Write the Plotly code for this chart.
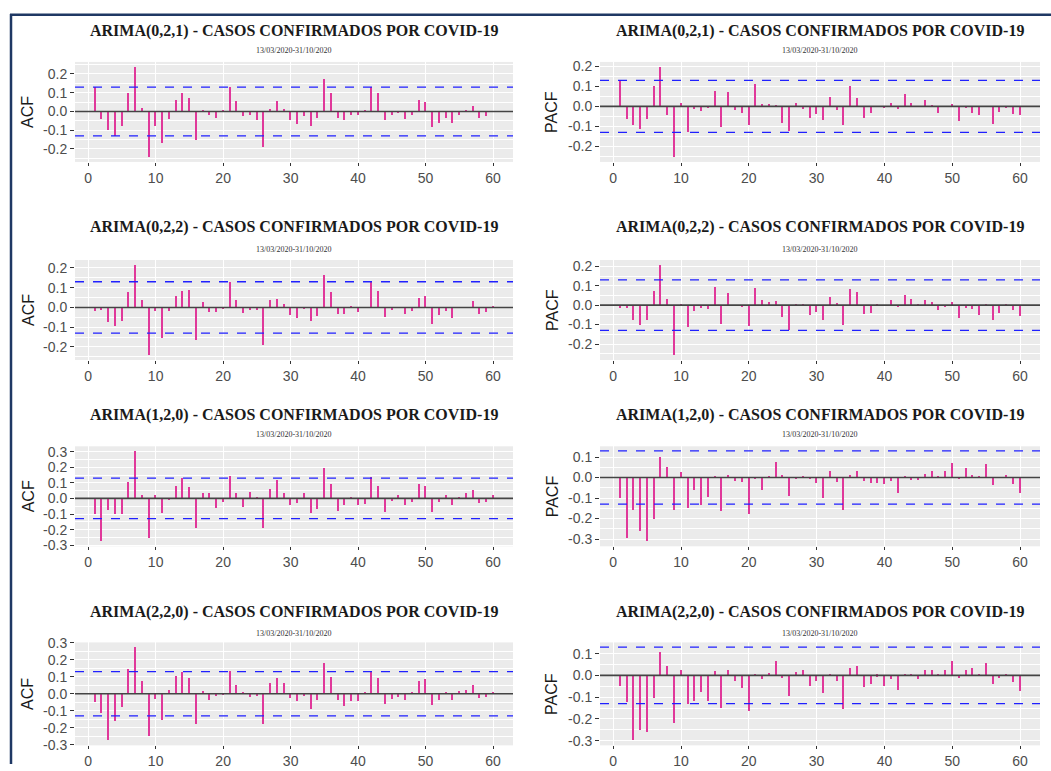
import numpy as np
import plotly.graph_objects as go

# ---------------- data ----------------
lags = list(range(1, 61))

acf_021 = [0.13, -0.04, -0.10, -0.13, -0.077, 0.10, 0.24, 0.02, -0.245, -0.077,
           -0.168, -0.038, 0.063, 0.10, 0.07, -0.15, 0.005, -0.018, -0.032, 0.003,
           0.133, 0.058, -0.023, -0.02, -0.045, -0.188, 0.014, 0.058, 0.014, -0.047,
           -0.068, -0.023, -0.077, -0.032, 0.172, 0.10, -0.032, -0.044, -0.018, -0.021,
           0.01, 0.133, 0.10, -0.044, -0.018, -0.01, -0.042, -0.018, 0.06, 0.053,
           -0.084, -0.063, -0.032, -0.063, -0.02, 0.003, 0.028, -0.032, -0.025, 0.002]

pacf_021 = [0.133, -0.061, -0.093, -0.111, -0.061, 0.101, 0.199, -0.043, -0.255, 0.018,
            -0.128, -0.015, -0.025, -0.01, 0.075, -0.103, 0.07, -0.02, -0.032, -0.095,
            0.11, 0.013, 0.013, 0.007, -0.083, -0.123, 0.015, -0.012, -0.06, -0.04,
            -0.07, 0.046, -0.02, -0.093, 0.101, 0.041, -0.06, -0.032, 0.002, -0.01,
            0.018, -0.015, 0.063, 0.018, 0.002, 0.03, 0.008, -0.032, -0.003, 0.013,
            -0.073, -0.008, -0.032, -0.045, 0.002, -0.086, -0.027, -0.008, -0.036, -0.045]

acf_022 = [-0.017, -0.013, -0.075, -0.093, -0.068, 0.08, 0.217, 0.037, -0.243, -0.017,
           -0.157, -0.017, 0.057, 0.082, 0.087, -0.163, 0.028, -0.023, -0.023, -0.01,
           0.128, 0.04, -0.028, -0.012, -0.012, -0.188, 0.04, 0.045, 0.017, -0.038,
           -0.055, -0.003, -0.068, -0.043, 0.163, 0.08, -0.033, -0.033, 0.003, -0.022,
           0.002, 0.13, 0.085, -0.05, -0.013, -0.002, -0.033, -0.017, 0.05, 0.057,
           -0.085, -0.038, -0.017, -0.055, -0.002, 0.002, 0.033, -0.033, -0.023, 0.008]

pacf_022 = [-0.014, -0.014, -0.078, -0.104, -0.078, 0.071, 0.209, 0.031, -0.259, 0.002,
            -0.112, -0.029, -0.015, -0.022, 0.094, -0.095, 0.06, -0.002, -0.01, -0.106,
            0.088, 0.027, 0.014, 0.019, -0.06, -0.13, 0.002, 0.007, -0.049, -0.034,
            -0.078, 0.041, 0.012, -0.102, 0.082, 0.066, -0.044, -0.039, 0.002, -0.003,
            0.024, -0.012, 0.053, 0.031, 0.002, 0.024, 0.014, -0.026, -0.01, 0.017,
            -0.066, -0.015, -0.02, -0.049, 0.008, -0.078, -0.041, 0.002, -0.026, -0.054]

acf_120 = [-0.105, -0.278, -0.076, -0.103, -0.105, 0.103, 0.305, 0.021, -0.257, 0.021,
           -0.097, -0.01, 0.08, 0.126, 0.074, -0.19, 0.03, 0.03, -0.063, -0.027,
           0.143, 0.036, -0.055, 0.038, 0.01, -0.194, 0.059, 0.116, 0.03, -0.042,
           -0.034, 0.03, -0.097, -0.067, 0.196, 0.093, -0.084, -0.046, 0.002, -0.046,
           -0.036, 0.135, 0.08, -0.088, -0.021, 0.023, -0.046, -0.027, 0.088, 0.08,
           -0.09, -0.027, 0.023, -0.042, 0.002, 0.03, 0.05, -0.034, -0.027, 0.023]

pacf_120 = [-0.1, -0.298, -0.162, -0.264, -0.313, -0.202, 0.097, 0.052, -0.162, 0.025,
            -0.152, -0.064, -0.136, -0.095, 0.005, -0.166, 0.011, -0.02, -0.025, -0.179,
            -0.01, -0.064, 0.002, 0.075, 0.011, -0.092, -0.005, 0.007, -0.008, -0.026,
            -0.102, 0.031, -0.025, -0.159, 0.011, 0.031, -0.02, -0.026, -0.026, -0.031,
            -0.016, -0.075, 0.005, -0.015, -0.013, 0.018, 0.031, 0.002, 0.03, 0.07,
            -0.008, 0.044, 0.013, 0.007, 0.064, -0.036, -0.003, 0.011, -0.031, -0.075]

acf_220 = [-0.052, -0.116, -0.276, -0.16, -0.082, 0.144, 0.274, 0.074, -0.25, -0.036,
           -0.156, 0.022, 0.102, 0.128, 0.09, -0.178, 0.014, -0.04, -0.018, -0.012,
           0.134, 0.048, 0.002, -0.02, -0.018, -0.182, 0.062, 0.09, 0.062, -0.026,
           -0.044, -0.018, -0.09, -0.04, 0.18, 0.096, -0.04, -0.074, -0.046, -0.046,
           0.002, 0.134, 0.09, -0.062, -0.032, -0.022, -0.04, 0.002, 0.074, 0.084,
           -0.066, -0.04, 0.002, -0.04, 0.014, 0.022, 0.048, -0.026, -0.02, 0.002]

pacf_220 = [-0.051, -0.126, -0.3, -0.253, -0.264, -0.105, 0.105, 0.043, -0.222, 0.022,
            -0.133, -0.119, -0.078, -0.119, 0.017, -0.152, 0.022, -0.028, -0.062, -0.164,
            0.002, -0.019, 0.011, 0.065, -0.012, -0.098, 0.012, 0.022, -0.051, -0.028,
            -0.082, 0.002, -0.028, -0.157, 0.033, 0.043, -0.054, -0.042, -0.009, -0.051,
            -0.019, -0.067, 0.002, 0.002, -0.019, 0.022, 0.022, 0.002, 0.022, 0.064,
            -0.015, 0.022, 0.033, -0.006, 0.056, -0.042, -0.012, 0.002, -0.033, -0.075]

models = ["ARIMA(0,2,1)", "ARIMA(0,2,2)", "ARIMA(1,2,0)", "ARIMA(2,2,0)"]
acf_series = [acf_021, acf_022, acf_120, acf_220]
pacf_series = [pacf_021, pacf_022, pacf_120, pacf_220]
title_suffix = " - CASOS CONFIRMADOS POR COVID-19"
subtitle = "13/03/2020-31/10/2020"
x_ticks = [0, 10, 20, 30, 40, 50, 60]
ci_limit = 0.13

# ---------------- layout helpers ----------------
W, H = 1051, 771
col_x = [(75, 513), (600, 1040)]
row_y = [(55, 157), (257, 359), (447, 549), (647, 752)]
title_y = [23, 223, 415, 616]
sub_y = [43, 246, 435, 638]
ylab_x = [28, 552]

BAR = "#E0389A"
BG = "#EBEBEB"
TICKC = "#4D4D4D"


def px(x):
    return x / W


def py(y):
    return 1 - y / H


fig = go.Figure()
layout = dict(
    width=W, height=H, margin=dict(l=0, r=0, t=0, b=0, pad=0),
    autosize=False,
    paper_bgcolor="white", plot_bgcolor=BG, showlegend=False,
    bargap=0,
)
shapes = []
annotations = []

idx = 0
for r in range(4):
    for c in range(2):
        idx += 1
        vals = acf_series[r] if c == 0 else pacf_series[r]
        label = "ACF" if c == 0 else "PACF"
        xn = "x" if idx == 1 else f"x{idx}"
        yn = "y" if idx == 1 else f"y{idx}"
        xk = "xaxis" if idx == 1 else f"xaxis{idx}"
        yk = "yaxis" if idx == 1 else f"yaxis{idx}"

        fig.add_trace(go.Bar(x=lags, y=vals, width=0.22,
                             marker=dict(color=BAR, line=dict(width=0)),
                             xaxis=xn, yaxis=yn, hoverinfo="x+y"))

        lo = min(min(vals), -ci_limit)
        hi = max(max(vals), ci_limit)
        pad = (hi - lo) * 0.05
        yr = [lo - pad, hi + pad]
        tv = [round(v, 1) for v in np.arange(-0.5, 0.55, 0.1) if yr[0] <= round(v, 1) <= yr[1]]
        tt = [f"{v:.1f}".replace("-0.0", "0.0") for v in tv]

        x0, x1 = col_x[c]
        y0, y1 = row_y[r]
        layout[xk] = dict(
            domain=[px(x0), px(x1)], anchor=yn, range=[-1.95, 62.95],
            tickvals=x_ticks, ticktext=[str(t) for t in x_ticks],
            showgrid=True, gridcolor="white", gridwidth=1.2, zeroline=False,
            ticks="outside", ticklen=3, tickcolor="#333333", tickwidth=1,
            tickfont=dict(family="Liberation Sans, Arial", size=14, color=TICKC),
            showline=False, fixedrange=True,
        )
        layout[yk] = dict(
            domain=[py(y1), py(y0)], anchor=xn, range=yr,
            tickvals=tv, ticktext=tt,
            showgrid=True, gridcolor="white", gridwidth=1.2, zeroline=False,
            minor=dict(tickmode="linear", tick0=0.05, dtick=0.1, showgrid=True,
                       gridcolor="white", gridwidth=0.6, ticks=""),
            ticks="outside", ticklen=4, tickcolor="#333333", tickwidth=1,
            tickfont=dict(family="Liberation Sans, Arial", size=14, color=TICKC),
            showline=False, fixedrange=True,
        )

        xref_dom = f"{xn} domain"
        shapes.append(dict(type="line", xref=xref_dom, yref=yn, x0=0, x1=1, y0=0, y1=0,
                           line=dict(color="#444444", width=1.6), layer="above"))
        for s in (1, -1):
            shapes.append(dict(type="line", xref=xref_dom, yref=yn, x0=0, x1=1,
                               y0=s * ci_limit, y1=s * ci_limit,
                               line=dict(color="#2020FF", width=1.3, dash="dash"),
                               layer="above"))

        cx = (x0 + x1) / 2
        annotations.append(dict(text=f"<b>{models[r]}{title_suffix}</b>", x=px(cx), y=py(title_y[r]),
                                xref="paper", yref="paper", showarrow=False,
                                xanchor="center", yanchor="middle",
                                font=dict(family="Liberation Serif, Times New Roman", size=16,
                                          color="#1A1A1A")))
        annotations.append(dict(text=subtitle, x=px(cx), y=py(sub_y[r]),
                                xref="paper", yref="paper", showarrow=False,
                                xanchor="center", yanchor="middle",
                                font=dict(family="Liberation Serif, Times New Roman", size=8,
                                          color="#333333")))
        annotations.append(dict(text=label, x=px(ylab_x[c]), y=py((y0 + y1) / 2),
                                xref="paper", yref="paper", showarrow=False,
                                textangle=-90, xanchor="center", yanchor="middle",
                                font=dict(family="Liberation Sans, Arial", size=16,
                                          color="#1A1A1A")))

# document frame (left and top navy rules)
shapes.append(dict(type="line", xref="paper", yref="paper", x0=px(11), x1=px(11),
                   y0=py(6), y1=0, line=dict(color="#1F3864", width=2.5)))
shapes.append(dict(type="line", xref="paper", yref="paper", x0=px(10), x1=1,
                   y0=py(7), y1=py(7), line=dict(color="#1F3864", width=2.5)))

layout["shapes"] = shapes
layout["annotations"] = annotations
fig.update_layout(**layout)

# place the figure flush with the page's top-left corner
post = ("document.body.style.margin='0';document.body.style.padding='0';"
        "document.body.style.overflow='hidden';"
        "var d=document.getElementById('{plot_id}');"
        "d.style.position='absolute';d.style.left='0px';d.style.top='0px';")
fig.write_html("out.html", post_script=post, config={"displayModeBar": False})
